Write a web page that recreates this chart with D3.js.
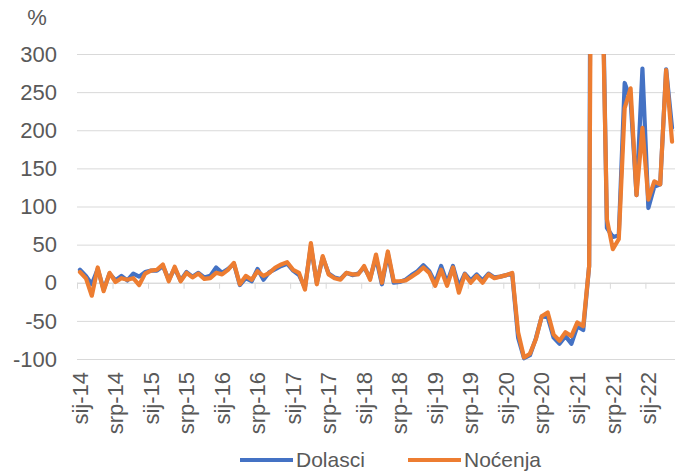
<!DOCTYPE html>
<html>
<head>
<meta charset="utf-8">
<script src="https://cdn.jsdelivr.net/npm/d3@7"></script>
<style>
  html, body { margin:0; padding:0; background:#fff; }
  text { font-family: "Liberation Sans", Arial, sans-serif; fill:#595959; }
</style>
</head>
<body>
<svg id="chart" width="679" height="473"></svg>
<script>
// podaci: mjesecna promjena u %, sij-14 .. svi-22
var dolasci = [17,9,-2,18,-9,12,3,9,3,12,8,14,
  16,16,22,4,19,3,14,8,13,7,9,20,
  13,18,25,-3,6,2,18,4,14,18,22,25,
  16,10,-6,48,0,33,12,7,5,13,10,12,
  20,6,33,-2,38,0,1,4,10,15,23,15,
  0,22,0,22,-5,12,3,11,3,12,7,8,
  10,12,-72,-99,-95,-73,-44,-45,-72,-80,-70,-80,
  -57,-62,22,2000,520,72,60,62,262,240,115,281,
  98,126,129,280,203];

var nocenja = [14,6,-17,20,-11,13,1,6,4,6,-3,12,
  16,17,24,2,21,2,13,7,12,5,6,13,
  11,17,26,-2,9,4,15,9,13,20,24,27,
  17,13,-9,52,-2,35,11,6,4,13,11,11,
  22,4,37,0,41,2,2,3,8,13,20,13,
  -4,17,-4,20,-13,11,0,9,0,11,6,8,
  10,13,-65,-98,-93,-74,-44,-39,-68,-76,-65,-70,
  -52,-57,22,1400,480,83,44,57,229,255,115,203,
  109,133,129,279,185];

var xLabels = ["sij-14","srp-14","sij-15","srp-15","sij-16","srp-16","sij-17","srp-17",
  "sij-18","srp-18","sij-19","srp-19","sij-20","srp-20","sij-21","srp-21","sij-22"];
var yTicks = [-100,-50,0,50,100,150,200,250,300];

var series = [
  {name:"Dolasci", values:dolasci, color:"#4472C4"},
  {name:"Noćenja", values:nocenja, color:"#ED7D31"}
];

var svg = d3.select("#chart");
// rubovi podrucja crtanja
var pL = 77, pR = 675, pT = 54, pB = 359;

var x = d3.scaleLinear().domain([0, dolasci.length]).range([pL, pR]);
var y = d3.scaleLinear().domain([-100, 300]).range([pB, pT]);

// mreza
svg.append("g")
  .attr("class","grid")
  .attr("transform","translate(" + pL + ",0)")
  .call(d3.axisLeft(y).tickValues(yTicks).tickSize(-(pR - pL)).tickFormat(""))
  .call(function(g){ g.select(".domain").remove(); })
  .selectAll("line")
  .attr("stroke","#D9D9D9")
  .attr("stroke-width",1);

// oznake y osi
svg.append("g")
  .selectAll("text")
  .data(yTicks)
  .enter()
  .append("text")
  .attr("x",57)
  .attr("y",function(d){ return y(d); })
  .attr("dy","0.35em")
  .attr("text-anchor","end")
  .style("font-size","22px")
  .text(function(d){ return d; });

svg.append("text")
  .attr("x",37)
  .attr("y",25)
  .attr("text-anchor","middle")
  .style("font-size","22px")
  .text("%");

// os x na nuli s crticama
var tickIdx = xLabels.map(function(d,i){ return i*6; });
svg.append("g")
  .attr("transform","translate(0," + y(0) + ")")
  .call(d3.axisBottom(x).tickValues(tickIdx).tickSize(6).tickFormat(""))
  .call(function(g){
    g.select(".domain").attr("stroke","#D9D9D9").attr("d","M" + pL + ",0.5H" + pR);
    g.selectAll("line").attr("stroke","#D9D9D9");
  });

// oznake x osi (okomito)
svg.append("g")
  .selectAll("text")
  .data(xLabels)
  .enter()
  .append("text")
  .attr("transform",function(d,i){
    return "translate(" + x(i*6 + 0.5) + ",372) rotate(-90)";
  })
  .attr("dy","0.35em")
  .attr("text-anchor","end")
  .style("font-size","22px")
  .text(function(d){ return d; });

// linije, odrezane na vrhu podrucja
svg.append("clipPath")
  .attr("id","clip")
  .append("rect")
  .attr("x",0).attr("y",pT)
  .attr("width",679).attr("height",473 - pT);

var line = d3.line()
  .x(function(d,i){ return x(i + 0.5); })
  .y(function(d){ return y(d); });

svg.append("g")
  .attr("clip-path","url(#clip)")
  .selectAll("path")
  .data(series)
  .enter()
  .append("path")
  .attr("d",function(d){ return line(d.values); })
  .attr("fill","none")
  .attr("stroke",function(d){ return d.color; })
  .attr("stroke-width",4.2)
  .attr("stroke-linejoin","round")
  .attr("stroke-linecap","round");

// legenda
var lg = svg.append("g")
  .selectAll("g")
  .data(series)
  .enter()
  .append("g")
  .attr("transform",function(d,i){
    var t = [240, 408];
    return "translate(" + t[i] + ",460)";
  });

lg.append("line")
  .attr("x1",0).attr("x2",53)
  .attr("y1",0).attr("y2",0)
  .attr("stroke",function(d){ return d.color; })
  .attr("stroke-width",4);

lg.append("text")
  .attr("x",56)
  .attr("dy","0.35em")
  .style("font-size","21px")
  .text(function(d){ return d.name; });
</script>
</body>
</html>
